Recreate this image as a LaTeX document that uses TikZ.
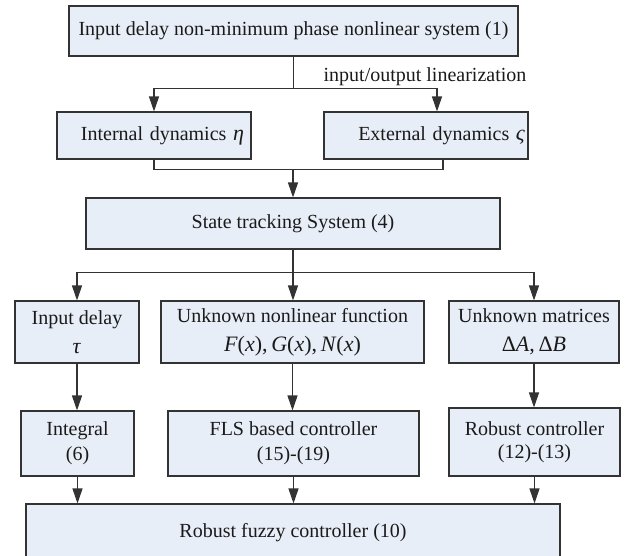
\documentclass[tikz,border=0pt]{standalone}
\usepackage{fontspec}
\setmainfont{Liberation Serif}
\usetikzlibrary{arrows.meta,positioning}
\definecolor{boxfill}{HTML}{E8EEF7}
\definecolor{boxline}{HTML}{333333}
\definecolor{ink}{HTML}{1A1A1A}
\newcommand{\mrow}{\fontsize{22}{24}\selectfont}

\begin{document}
\begin{tikzpicture}[x=1pt,y=-1pt,
    blk/.style={rectangle, draw=boxline, fill=boxfill, text=ink, line width=1.1pt,
                inner sep=0pt, align=center, font=\fontsize{20}{24}\selectfont},
    arr/.style={-{Triangle[length=15pt,width=10pt]}, draw=boxline, line width=1.1pt},
    wire/.style={draw=boxline, line width=1.1pt},
]
\useasboundingbox (0,0) rectangle (626,555);
\clip (0,0) rectangle (626,555);

% system and its two parts
\node[blk, minimum width=449pt, minimum height=50pt] (top) at (293.5,31)
    {Input delay non-minimum phase nonlinear system (1)};
\node[blk, minimum width=194pt, minimum height=47pt, text width=180pt, align=right] (intl) at (154,135.5)
    {Internal dynamics {\mrow\textit{η}}};
\node[blk, minimum width=204pt, minimum height=47pt, text width=198pt, align=right] (extl) at (426,135.5)
    {External dynamics {\mrow\textit{ς}}};
\node[text=ink, font=\fontsize{20}{24}\selectfont] (lin) at (425,77) {input/output linearization};

% tracking system
\node[blk, minimum width=414pt, minimum height=51pt] (state) at (293,223.5)
    {State tracking System (4)};

% uncertainties
\node[blk, minimum width=124pt, minimum height=62pt] (delay) at (77,332)
    {Input delay\\[5pt]{\mrow\textit{τ}}};
\node[blk, minimum width=263pt, minimum height=62pt] (unf) at (292.5,332)
    {Unknown nonlinear function\\[5pt]{\mrow\textit{F}(\textit{x}),\,\textit{G}(\textit{x}),\,\textit{N}(\textit{x})}};
\node[blk, minimum width=170pt, minimum height=62pt] (umat) at (534,332)
    {Unknown matrices\\[5pt]{\mrow Δ\textit{A},\,Δ\textit{B}}};

% controllers
\node[blk, minimum width=113pt, minimum height=65pt] (integ) at (77.5,443.5)
    {Integral\\[1pt](6)};
\node[blk, minimum width=251pt, minimum height=65pt] (fls) at (293.5,443.5)
    {FLS based controller\\[1pt](15)-(19)};
\node[blk, minimum width=171pt, minimum height=68pt] (robc) at (534.5,442)
    {Robust controller\\[-1pt](12)-(13)};
\node[blk, minimum width=534pt, minimum height=58pt] (fuzzy) at (293,533)
    {Robust fuzzy controller (10)};

% connectors
\draw[wire] (top.south) -- ++(0,32) coordinate (sp1);
\draw[arr] (sp1) -| (intl.north);
\draw[arr] (sp1) -| ([xshift=11pt]extl.north);

\draw[wire] (intl.south) -- ++(0,10) coordinate (jn1);
\draw[wire] (jn1) -| ([xshift=17pt]extl.south);
\draw[arr] (jn1 -| state.north) -- (state.north);

\draw[wire] (state.south) -- ++(0,23) coordinate (sp2);
\draw[arr] (sp2) -| (delay.north);
\draw[arr] (sp2) -| (umat.north);
\draw[arr] (sp2) -- (sp2 |- unf.north);

\draw[arr] (delay.south) -- (delay.south |- integ.north);
\draw[arr] (unf.south) -- (unf.south |- fls.north);
\draw[arr] (umat.south) -- (umat.south |- robc.north);

\draw[arr] (integ.south) -- (integ.south |- fuzzy.north);
\draw[arr] (fls.south) -- (fls.south |- fuzzy.north);
\draw[arr] (robc.south) -- (robc.south |- fuzzy.north);
\end{tikzpicture}
\end{document}
